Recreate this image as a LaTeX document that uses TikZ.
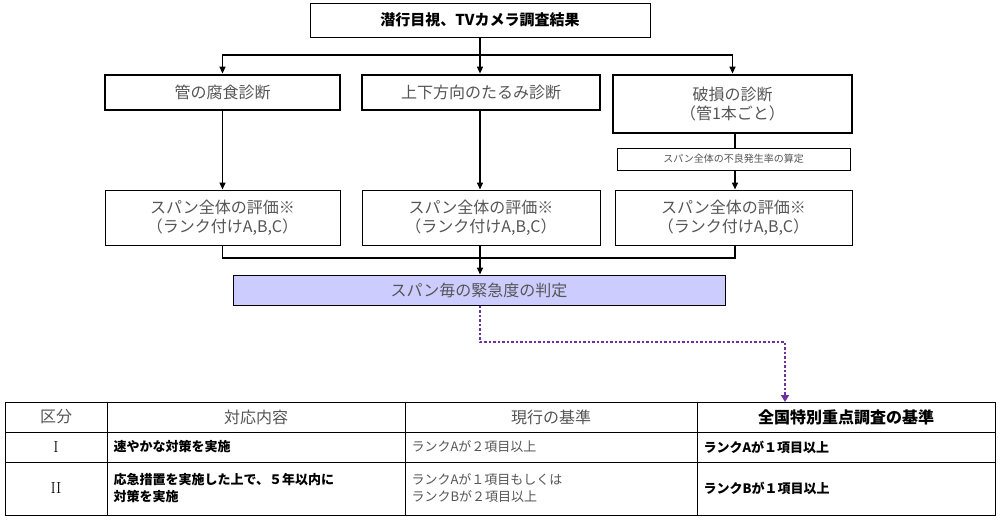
\documentclass[tikz,border=0pt]{standalone}
\usepackage{fontspec}
\newfontfamily\jp{Noto Sans CJK JP}
\usetikzlibrary{arrows.meta}
\definecolor{lav}{HTML}{CCCCFF}
\definecolor{pur}{HTML}{7030A0}
\definecolor{gt}{HTML}{555555}
\begin{document}
\begin{tikzpicture}[x=1pt,y=-1pt,font=\jp\fontsize{16}{19}\selectfont,
 box/.style={draw,line width=1pt,inner sep=0,align=center,text=gt},
 tbox/.style={draw,line width=2.8pt,inner sep=0,align=center,text=gt},
 arr/.style={-{Triangle[length=7pt,width=6pt]},line width=1.5pt},
 ln/.style={line width=1.5pt},
 cellg/.style={anchor=west,text=gt,align=left,font=\jp\fontsize{13}{17}\selectfont},
 cellb/.style={anchor=west,align=left,font=\jp\bfseries\fontsize{13}{17}\selectfont}]
\useasboundingbox (0,0) rectangle (1000,520);
\fill[white] (0,0) rectangle (1000,520);
\node[box,text=black,font=\jp\bfseries\fontsize{15}{18}\selectfont,minimum width=340,minimum height=34] (top) at (480,20) {潜行目視、TVカメラ調査結果};
\node[tbox,minimum width=235,minimum height=35] (b1) at (222.5,92.5) {管の腐食診断};
\node[tbox,minimum width=238,minimum height=35] (b2) at (481,92.5) {上下方向のたるみ診断};
\node[tbox,minimum width=239,minimum height=58] (b3) at (732.5,104) {破損の診断\\（管1本ごと）};
\node[box,minimum width=233,minimum height=22,font=\jp\fontsize{10}{12}\selectfont] (s3) at (733.5,159) {スパン全体の不良発生率の算定};
\node[box,minimum width=235,minimum height=55] (e1) at (222.5,217.5) {スパン全体の評価※\\（ランク付けA,B,C）};
\node[box,minimum width=238,minimum height=55] (e2) at (481,217.5) {スパン全体の評価※\\（ランク付けA,B,C）};
\node[box,minimum width=237,minimum height=55] (e3) at (733.5,217.5) {スパン全体の評価※\\（ランク付けA,B,C）};
\node[box,fill=lav,minimum width=492,minimum height=30] (p) at (479,290) {スパン毎の緊急度の判定};
\coordinate (j1) at (480,55);
\coordinate (j2) at (480,258);
\draw[ln] (top.south) -- (j1);
\draw[arr] (j1) -| (b1.north);
\draw[arr] (j1) -| (b3.north);
\draw[arr] (j1) -- (j1|-b2.north);
\draw[arr] (b1) -- (e1);
\draw[arr] (b2.south-|480,0) -- (e2.north-|480,0);
\draw[ln] (b3.south-|735,0) -- (s3.north-|735,0);
\draw[arr] (s3.south-|735,0) -- (e3.north-|735,0);
\draw[ln] (e1.south) |- (j2);
\draw[ln] (e3.south-|735,0) |- (j2);
\draw[ln] (e2.south-|480,0) -- (j2);
\draw[arr] (j2) -- (p.north-|480,0);
\coordinate (t) at (785,402);
\draw[pur,line width=2.5pt,dotted,-{Triangle[length=7pt,width=8pt]}] (p.south-|480,0) -- (480,342) -| (t);
\draw[line width=1pt] (5,402) rectangle (995,515);
\foreach \x in {107,405,697} \draw[line width=1pt] (\x,402) -- (\x,515);
\draw[line width=1pt] (5,432) -- (995,432);
\draw[line width=1pt] (5,462) -- (995,462);
\node[text=gt] (h1) at (56,417) {区分};
\node[text=gt] (h2) at (256,417) {対応内容};
\node[text=gt] (h3) at (551,417) {現行の基準};
\node[font=\jp\bfseries\fontsize{16}{19}\selectfont] (h4) at (846,417) {全国特別重点調査の基準};
\node[font=\fontsize{16}{19}\selectfont] (r1) at (56,447) {I};
\node[font=\fontsize{16}{19}\selectfont] (r2) at (56,488.5) {II};
\node[cellb] (c11) at (110,447) {速やかな対策を実施};
\node[cellg] (c12) at (408,447) {ランクAが２項目以上};
\node[cellb] (c13) at (700,447) {ランクAが１項目以上};
\node[cellb] (c21) at (110,488.5) {応急措置を実施した上で、５年以内に\\対策を実施};
\node[cellg] (c22) at (408,488.5) {ランクAが１項目もしくは\\ランクBが２項目以上};
\node[cellb] (c23) at (700,488.5) {ランクBが１項目以上};
\end{tikzpicture}
\end{document}
